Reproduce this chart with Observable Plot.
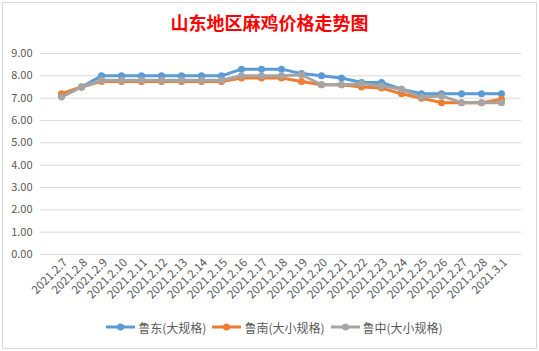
<!DOCTYPE html>
<html>
<head>
<meta charset="utf-8">
<script src="https://cdn.jsdelivr.net/npm/d3@7"></script>
<script src="https://cdn.jsdelivr.net/npm/@observablehq/plot@0.6"></script>
<style>
  body { margin: 0; background: #fff; }
  #chart { position: relative; width: 539px; height: 351px; overflow: hidden; font-family: "Noto Sans CJK SC", "Noto Sans", sans-serif; }
  #frame { position: absolute; left: 2px; top: 2px; width: 535px; height: 347px; border: 1px solid #D9D9D9; box-sizing: border-box; pointer-events: none; }
  #title { height: 38px; line-height: 44px; text-align: center; color: #FF0000; font-weight: bold; font-size: 18px; }
  #legend { display: flex; justify-content: center; align-items: center; height: 34px; font-size: 12px; color: #595959; gap: 6px; padding-left: 10px; }
  .item { display: flex; align-items: center; gap: 3px; }
</style>
</head>
<body>
<div id="chart">
  <div id="title"></div>
  <div id="plot"></div>
  <div id="legend"></div>
  <div id="frame"></div>
</div>
<script>
const title = "山东地区麻鸡价格走势图";
const dates = ["2021.2.7","2021.2.8","2021.2.9","2021.2.10","2021.2.11","2021.2.12","2021.2.13","2021.2.14","2021.2.15","2021.2.16","2021.2.17","2021.2.18","2021.2.19","2021.2.20","2021.2.21","2021.2.22","2021.2.23","2021.2.24","2021.2.25","2021.2.26","2021.2.27","2021.2.28","2021.3.1"];
const seriesNames = ["鲁东(大规格)", "鲁南(大小规格)", "鲁中(大小规格)"];
const ludong   = [7.1, 7.5, 8.0, 8.0, 8.0, 8.0, 8.0, 8.0, 8.0, 8.3, 8.3, 8.3, 8.1, 8.0, 7.9, 7.7, 7.7, 7.4, 7.2, 7.2, 7.2, 7.2, 7.2];
const lunan    = [7.2, 7.5, 7.75, 7.75, 7.75, 7.75, 7.75, 7.75, 7.75, 7.9, 7.9, 7.9, 7.75, 7.6, 7.6, 7.5, 7.45, 7.2, 7.0, 6.8, 6.8, 6.8, 6.95];
const luzhong  = [7.05, 7.5, 7.8, 7.8, 7.8, 7.8, 7.8, 7.8, 7.8, 8.0, 8.0, 8.0, 8.05, 7.6, 7.6, 7.65, 7.55, 7.4, 7.05, 7.1, 6.8, 6.8, 6.8];
const yTicks = [0,1,2,3,4,5,6,7,8,9];
const colors = ["#5B9BD5", "#ED7D31", "#A5A5A5"];

document.getElementById("title").textContent = title;

const allSeries = [ludong, lunan, luzhong];
const data = [];
allSeries.forEach((vals, si) => vals.forEach((v, i) => data.push({date: dates[i], value: v, series: seriesNames[si]})));

const plot = Plot.plot({
  width: 539,
  height: 272,
  marginLeft: 40,
  marginRight: 18,
  marginTop: 15,
  marginBottom: 56,
  style: { fontFamily: '"Noto Sans CJK SC", "Noto Sans", sans-serif', fontSize: "11px", color: "#595959", background: "transparent" },
  x: { type: "point", domain: dates, padding: 0.5, label: null },
  y: { domain: [0, 9], ticks: yTicks, label: null },
  color: { domain: seriesNames, range: colors },
  marks: [
    Plot.gridY(yTicks, { stroke: "#D9D9D9", strokeOpacity: 1, strokeWidth: 1 }),
    Plot.axisY(yTicks, { tickSize: 0, tickPadding: 8, tickFormat: d3.format(".2f"), fill: "#595959", fontSize: 11, label: null }),
    Plot.axisX({ tickSize: 0, tickRotate: -45, tickPadding: 6, dx: 4, fill: "#595959", fontSize: 11.5, textAnchor: "end", label: null }),
    Plot.line(data, { x: "date", y: "value", stroke: "series", z: "series", strokeWidth: 3, curve: "linear" }),
    Plot.dot(data, { x: "date", y: "value", fill: "series", r: 3.5, stroke: null })
  ]
});
document.getElementById("plot").appendChild(plot);

const legend = document.getElementById("legend");
seriesNames.forEach((name, i) => {
  const item = document.createElement("div");
  item.className = "item";
  item.innerHTML = `<svg width="29" height="10"><line x1="0" x2="29" y1="5" y2="5" stroke="${colors[i]}" stroke-width="3"/><circle cx="14.5" cy="5" r="3.5" fill="${colors[i]}"/></svg><span>${name}</span>`;
  legend.appendChild(item);
});
</script>
</body>
</html>
